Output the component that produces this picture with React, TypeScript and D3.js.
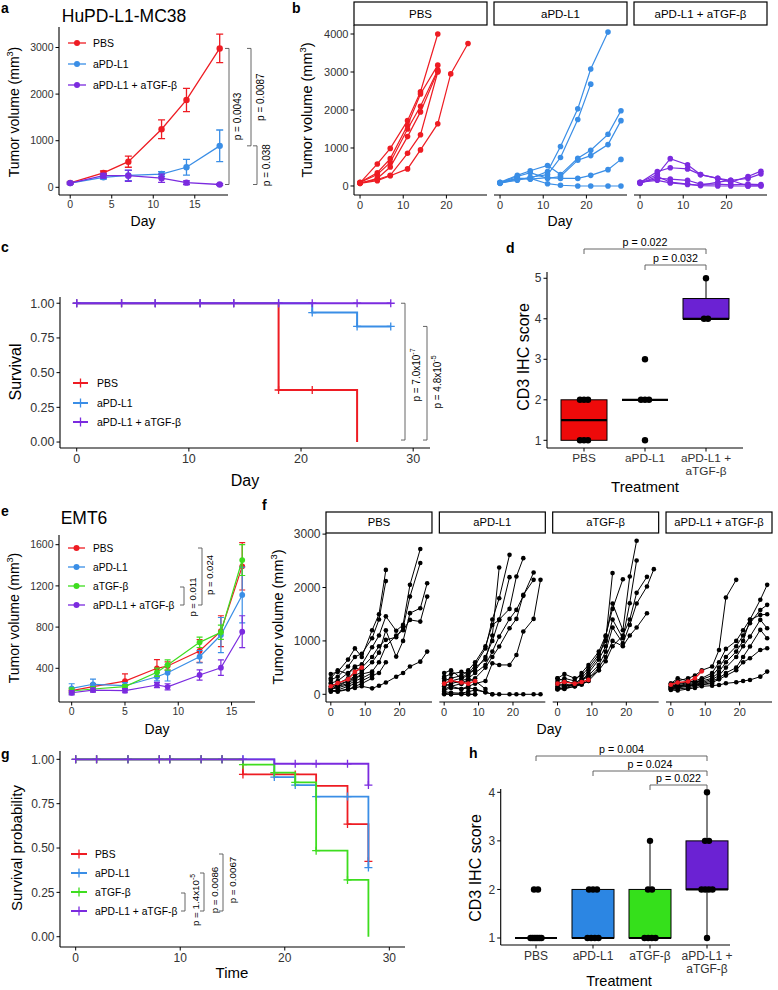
import React from 'react';
import * as d3 from 'd3';

const FONT = '"Liberation Sans", Arial, Helvetica, sans-serif';
const C_RED = '#EE1C23';
const C_BLUE = '#3A8EE6';
const C_PURPLE = '#7B2BDF';
const C_GREEN = '#3EDD1F';
const F_RED = '#EE0A0A';
const F_BLUE = '#2C86E3';
const F_GREEN = '#35E01B';
const F_PURPLE = '#6B22D3';
const AXIS_TXT = '#333333';
const BRK = '#555555';

// ---------------- Panel a data ----------------
const aDays = [0, 4, 7, 11, 14, 18];
const aXTicks = [0, 5, 10, 15];
const aYTicks = [0, 1000, 2000, 3000];
const aPBS = [95, 310, 550, 1245, 1875, 2980];
const aPBSErr = [20, 40, 120, 200, 250, 305];
const aPDL1 = [90, 215, 255, 285, 430, 890];
const aPDL1Err = [15, 40, 110, 50, 170, 340];
const aCombo = [90, 250, 250, 195, 100, 60];
const aComboErr = [15, 50, 120, 90, 40, 20];
const aLegend = ['PBS', 'aPD-L1', 'aPD-L1 + aTGF-β'];
const aPvals = ['p = 0.0043', 'p = 0.0087', 'p = 0.038'];

// ---------------- Panel b data ----------------
const bFacets = ['PBS', 'aPD-L1', 'aPD-L1 + aTGF-β'];
const bDays = [0, 4, 7, 11, 14, 18, 21, 25, 28];
const bXTicks = [0, 10, 20];
const bYTicks = [0, 1000, 2000, 3000, 4000];
const bPBS = [
  [80, 580, 990, 1720, 2480, 4000],
  [100, 350, 720, 1600, 2420, 3180],
  [90, 300, 620, 1500, 2100, 3050],
  [70, 200, 500, 1300, 1950, 3020],
  [80, 170, 280, 860, 1350, 3000],
  [70, 140, 270, 450, 950, 1640, 2950, 3750],
];
const bAPD = [
  [90, 200, 200, 380, 1040, 2030, 3080, 4050],
  [80, 150, 230, 300, 750, 1750, 2680],
  [100, 280, 400, 540, 300, 730, 940, 1360, 1980],
  [90, 250, 350, 200, 250, 680, 800, 1090, 1720],
  [80, 200, 180, 220, 200, 200, 280, 430, 700],
  [70, 180, 200, 60, 20, 0, 0, 0, 0],
];
const bCombo = [
  [100, 300, 720, 560, 300, 200, 100, 250, 390],
  [90, 380, 480, 450, 300, 200, 150, 200, 320],
  [80, 200, 180, 150, 50, 50, 30, 50, 40],
  [100, 150, 80, 40, 10, 0, 0, 0, 10],
  [70, 250, 100, 50, 20, 100, 150, 0, 0],
];

// ---------------- Panel c data ----------------
const cXTicks = [0, 10, 20, 30];
const cYTicks = [0, 0.25, 0.5, 0.75, 1];
const cPBSTimes = [0, 18, 25];
const cPBSSurv = [1, 0.375, 0];
const cPBSEnd = 25;
const cPBSCens = [0, 4, 7, 11, 14, 18, 21];
const cAPDTimes = [0, 21, 25];
const cAPDSurv = [1, 0.933, 0.833];
const cAPDEnd = 28;
const cAPDCens = [0, 4, 7, 11, 14, 18, 21, 25, 28];
const cComboTimes = [0];
const cComboSurv = [1];
const cComboEnd = 28;
const cComboCens = [0, 4, 7, 11, 14, 18, 21, 25, 28];

// ---------------- Panel d data ----------------
const dCats = ['PBS', 'aPD-L1', 'aPD-L1 +\naTGF-β'];
const dYTicks = [1, 2, 3, 4, 5];
const dPBS = [1, 1, 1, 2, 2, 2];
const dAPD = [1, 2, 2, 2, 3];
const dCombo = [4, 4, 5];

// ---------------- Panel e data ----------------
const eDays = [0, 2, 5, 8, 9, 12, 14, 16];
const eXTicks = [0, 5, 10, 15];
const eYTicks = [400, 800, 1200, 1600];
const ePBS = [183, 222, 276, 400, 422, 568, 760, 1390];
const ePBSErr = [15, 30, 70, 85, 40, 110, 150, 230];
const eAPD = [205, 245, 231, 318, 357, 513, 723, 1112];
const eAPDErr = [45, 50, 30, 40, 80, 60, 170, 270];
const eATGF = [180, 199, 222, 361, 432, 652, 750, 1451];
const eATGFErr = [30, 20, 20, 40, 50, 50, 70, 150];
const eCombo = [163, 189, 183, 238, 220, 335, 406, 755];
const eComboErr = [20, 20, 20, 25, 30, 50, 75, 155];
const eLegend = ['PBS', 'aPD-L1', 'aTGF-β', 'aPD-L1 + aTGF-β'];

// ---------------- Panel f data ----------------
const fFacets = ['PBS', 'aPD-L1', 'aTGF-β', 'aPD-L1 + aTGF-β'];
const fDays = [0, 2, 5, 7, 9, 12, 14, 16, 19, 21, 23, 26, 28];
const fXTicks = [0, 10, 20];
const fYTicks = [0, 1000, 2000, 3000];
const fMeanDays = [0, 2, 5, 7, 9];
const fPBS = [
  [380, 420, 650, 860, 700, 1200, 1500, 2330],
  [270, 330, 520, 700, 760, 1050, 1400, 2120],
  [210, 250, 400, 520, 560, 880, 1100, 1460, 1190, 1300, 2050, 2720],
  [150, 200, 300, 420, 500, 700, 900, 1020, 1070, 1250, 1830, 2460],
  [120, 180, 250, 350, 420, 600, 780, 1200, 706, 1000, 1520, 1612, 2080],
  [100, 150, 200, 300, 380, 425, 600, 900, 1100, 1200, 1394, 1362, 1830],
  [80, 60, 100, 120, 150, 112, 160, 220, 330, 400, 520, 612, 800],
  [300, 450, 380, 500, 450],
  [200, 150, 250, 300, 350],
  [100, 120, 180, 250, 300, 400],
  [60, 50, 90, 150, 200, 300],
  [50, 80, 150, 200, 250, 350, 400, 600],
];
const fPBSMean = [150, 210, 280, 420, 500];
const fAPD = [
  [400, 450, 300, 350, 500, 650, 1100, 2375],
  [330, 380, 420, 380, 550, 860, 1400, 1800, 2612],
  [250, 300, 350, 450, 600, 900, 1300, 1394, 2194],
  [200, 250, 300, 400, 450, 700, 1000, 1400, 1600, 2206, 2550],
  [150, 200, 250, 300, 400, 550, 800, 1081, 1412, 1581, 1844, 2281],
  [100, 150, 200, 250, 300, 500, 700, 894, 1237, 1412, 1862, 2144],
  [80, 120, 100, 150, 200, 250, 581, 550, 550, 737, 1175, 1412, 2144],
  [50, 30, 20, 50, 80, 40, 0, 0, 0, 0, 0, 0, 0],
  [20, 0, 10, 0, 0],
  [300, 250, 200, 280, 250, 100],
  [0, 0, 0, 0, 0],
  [200, 150, 100, 120, 100, 40, 0],
];
const fAPDMean = [200, 260, 220, 200, 250];
const fATGF = [
  [300, 380, 300, 350, 500, 750, 1000, 2270],
  [250, 300, 250, 400, 550, 800, 1100, 1600, 2156],
  [200, 250, 200, 300, 450, 700, 1080, 1700, 1200, 2206, 2875],
  [150, 200, 150, 250, 400, 650, 900, 1400, 1050, 1706, 2506],
  [120, 150, 200, 250, 350, 550, 800, 1250, 956, 1300, 1700, 2019, 2344],
  [100, 120, 180, 200, 300, 500, 700, 1000, 900, 1100, 1250, 1519],
  [90, 110, 150, 180, 250, 450, 620, 900, 1100, 1400, 1900, 2200],
  [300, 250, 200, 250, 350],
  [200, 150, 180, 200, 250],
  [100, 100, 150, 200, 300, 450],
];
const fATGFMean = [200, 230, 200, 230, 270];
const fCombo = [
  [200, 250, 300, 350, 450, 520, 830, 1812, 2144],
  [150, 180, 220, 250, 300, 400, 600, 850, 1000, 1200, 1400, 1770, 2050],
  [130, 160, 200, 220, 280, 350, 500, 700, 900, 1100, 1330, 1580, 1675],
  [120, 150, 180, 200, 250, 300, 420, 600, 800, 1000, 1394, 1487, 1500],
  [110, 140, 160, 180, 220, 280, 350, 500, 700, 900, 1081, 1394, 1237],
  [100, 120, 150, 170, 200, 250, 300, 400, 500, 700, 894, 1206, 1050],
  [90, 100, 120, 150, 180, 220, 280, 350, 450, 600, 675, 831, 862],
  [80, 70, 100, 120, 150, 162, 175, 206, 225, 250, 269, 331, 425],
  [200, 300, 250, 220, 260],
  [180, 200, 230, 250, 220],
  [150, 170, 150, 200, 180, 200],
];
const fComboMean = [180, 220, 240, 300, 430];

// ---------------- Panel g data ----------------
const gXTicks = [0, 10, 20, 30];
const gYTicks = [0, 0.25, 0.5, 0.75, 1];
const gPBSTimes = [0, 16, 23, 26, 28];
const gPBSSurv = [1, 0.915, 0.85, 0.635, 0.425];
const gPBSCens = [0, 2, 5, 8, 9, 12, 14, 16, 19, 21, 26, 28];
const gAPDTimes = [0, 19, 21, 23, 28];
const gAPDSurv = [1, 0.9, 0.855, 0.79, 0.39];
const gAPDCens = [0, 2, 5, 8, 9, 12, 14, 16, 19, 21, 23, 26, 28];
const gATGFTimes = [0, 16, 19, 21, 23, 26, 28];
const gATGFSurv = [1, 0.97, 0.925, 0.87, 0.485, 0.32, 0];
const gATGFCens = [0, 2, 5, 8, 9, 12, 14, 16, 19, 21, 23, 26];
const gComboTimes = [0, 19, 28];
const gComboSurv = [1, 0.975, 0.855];
const gComboCens = [0, 2, 5, 8, 9, 12, 14, 16, 21, 23, 26, 28];
const gEnd = 28;

// ---------------- Panel h data ----------------
const hCats = ['PBS', 'aPD-L1', 'aTGF-β', 'aPD-L1 +\naTGF-β'];
const hYTicks = [1, 2, 3, 4];
const hPBS = [1, 1, 1, 1, 1, 1, 1, 2, 2];
const hAPD = [1, 1, 1, 1, 2, 2, 2];
const hATGF = [1, 1, 1, 1, 2, 2, 3];
const hCombo = [1, 2, 2, 2, 2, 3, 3, 4];

// ================= helpers =================
type Scale = d3.ScaleLinear<number, number>;

function LeftAxis({ x, y, ticks, fmt, fs }: { x: number; y: Scale; ticks: number[]; fmt: (v: number) => string; fs: number }) {
  const [r0, r1] = y.range();
  return (
    <g>
      <line x1={x} x2={x} y1={r0} y2={r1} stroke="#000" strokeWidth={1.1} />
      {ticks.map((t) => (
        <g key={t}>
          <line x1={x - 3.5} x2={x} y1={y(t)} y2={y(t)} stroke="#000" strokeWidth={1} />
          <text x={x - 5.5} y={y(t)} dy="0.35em" textAnchor="end" fontSize={fs} fill={AXIS_TXT}>
            {fmt(t)}
          </text>
        </g>
      ))}
    </g>
  );
}

function BottomAxis({ y0, x, ticks, fs, x0, x1 }: { y0: number; x: Scale; ticks: number[]; fs: number; x0: number; x1: number }) {
  return (
    <g>
      <line x1={x0} x2={x1} y1={y0} y2={y0} stroke="#000" strokeWidth={1.1} />
      {ticks.map((t) => (
        <g key={t}>
          <line x1={x(t)} x2={x(t)} y1={y0} y2={y0 + 3.5} stroke="#000" strokeWidth={1} />
          <text x={x(t)} y={y0 + 5} dy="0.8em" textAnchor="middle" fontSize={fs} fill={AXIS_TXT}>
            {t}
          </text>
        </g>
      ))}
    </g>
  );
}

function VTitle({ x, y, fs, children }: { x: number; y: number; fs: number; children: any }) {
  return (
    <text transform={`translate(${x},${y}) rotate(-90)`} textAnchor="middle" dy="0.35em" fontSize={fs} fill="#000">
      {children}
    </text>
  );
}

const mm3 = (fs: number) => [
  <tspan key="a">Tumor volume (mm</tspan>,
  <tspan key="b" dy={-fs * 0.4} fontSize={fs * 0.65}>3</tspan>,
  <tspan key="c" dy={fs * 0.4}>)</tspan>,
];

function PanelLabel({ x, y, t }: { x: number; y: number; t: string }) {
  return (
    <text x={x} y={y} fontSize={14} fontWeight="bold" fill="#000">
      {t}
    </text>
  );
}

function VBracket({ x, y1, y2, tx, ty, fs, children }: any) {
  return (
    <g>
      <path d={`M${x - 4},${y1} H${x} V${y2} H${x - 4}`} fill="none" stroke={BRK} strokeWidth={0.9} />
      <text transform={`translate(${tx},${ty}) rotate(-90)`} textAnchor="middle" dy="0.35em" fontSize={fs} fill="#000">
        {children}
      </text>
    </g>
  );
}

function HBracket({ x1, x2, y, fs, text }: any) {
  return (
    <g>
      <path d={`M${x1},${y + 5} V${y} H${x2} V${y + 5}`} fill="none" stroke={BRK} strokeWidth={0.9} />
      <text x={(x1 + x2) / 2} y={y - 3} textAnchor="middle" fontSize={fs} fill="#000">
        {text}
      </text>
    </g>
  );
}

const pSup = (base: string, exp: string, fs: number) => [
  <tspan key="a">{base}</tspan>,
  <tspan key="b" dy={-fs * 0.45} fontSize={fs * 0.7}>{exp}</tspan>,
];

function MeanSeries({ x, y, days, mean, err, color, cap, r, lw }: any) {
  const line = d3
    .line<number>()
    .x((_, i) => x(days[i]))
    .y((d) => y(d));
  return (
    <g>
      <path d={line(mean) || ''} fill="none" stroke={color} strokeWidth={lw} />
      {mean.map((m: number, i: number) => {
        const cx = x(days[i]);
        const lo = y(m - err[i]);
        const hi = y(m + err[i]);
        return (
          <g key={i}>
            <path d={`M${cx - cap},${hi} H${cx + cap} M${cx},${hi} V${lo} M${cx - cap},${lo} H${cx + cap}`} stroke={color} strokeWidth={lw} fill="none" />
            <circle cx={cx} cy={y(m)} r={r} fill={color} />
          </g>
        );
      })}
    </g>
  );
}

function DotLegend({ items, colors, x0, x1, tx, ys, fs, marker }: any) {
  return (
    <g>
      {items.map((t: string, i: number) => {
        const yy = ys[i];
        const cx = (x0 + x1) / 2;
        return (
          <g key={t}>
            <line x1={x0} x2={x1} y1={yy} y2={yy} stroke={colors[i]} strokeWidth={marker === 'plus' ? 2 : 1.3} />
            {marker === 'plus' ? (
              <path d={`M${cx},${yy - 4.5} V${yy + 4.5}`} stroke={colors[i]} strokeWidth={1.3} />
            ) : (
              <circle cx={cx} cy={yy} r={3} fill={colors[i]} />
            )}
            <text x={tx} y={yy} dy="0.35em" fontSize={fs} fill="#000">
              {t}
            </text>
          </g>
        );
      })}
    </g>
  );
}

function KM({ x, y, times, surv, end, cens, color, lw, ps }: any) {
  const pts: [number, number][] = times.map((t: number, i: number) => [t, surv[i]]);
  pts.push([end, surv[surv.length - 1]]);
  const path = d3
    .line<[number, number]>()
    .x((d) => x(d[0]))
    .y((d) => y(d[1]))
    .curve(d3.curveStepAfter)(pts);
  const survAt = (t: number) => {
    let s = surv[0];
    times.forEach((tt: number, i: number) => {
      if (tt <= t) s = surv[i];
    });
    return s;
  };
  return (
    <g>
      <path d={path || ''} fill="none" stroke={color} strokeWidth={lw} />
      {cens.map((t: number, i: number) => {
        const cx = x(t);
        const cy = y(survAt(t));
        return <path key={i} d={`M${cx - ps},${cy} H${cx + ps} M${cx},${cy - ps} V${cy + ps}`} stroke={color} strokeWidth={1.3} />;
      })}
    </g>
  );
}

function spreadPoints(vals: number[], maxStep: number, maxSpan: number) {
  const counts: Record<string, number> = {};
  vals.forEach((v) => (counts[v] = (counts[v] || 0) + 1));
  const seen: Record<string, number> = {};
  return vals.map((v) => {
    const n = counts[v];
    const k = seen[v] || 0;
    seen[v] = k + 1;
    const step = n > 1 ? Math.min(maxStep, maxSpan / (n - 1)) : 0;
    return (k - (n - 1) / 2) * step;
  });
}

function BoxGroup({ cx, y, vals, fill, w, r }: any) {
  const s = [...vals].sort((a: number, b: number) => a - b);
  const q1 = d3.quantile(s, 0.25) as number;
  const med = d3.quantile(s, 0.5) as number;
  const q3 = d3.quantile(s, 0.75) as number;
  const iqr = q3 - q1;
  const lo = d3.min(s.filter((v: number) => v >= q1 - 1.5 * iqr)) as number;
  const hi = d3.max(s.filter((v: number) => v <= q3 + 1.5 * iqr)) as number;
  const offs = spreadPoints(vals, 4, 11);
  return (
    <g>
      <line x1={cx} x2={cx} y1={y(q3)} y2={y(hi)} stroke="#000" strokeWidth={1} />
      <line x1={cx} x2={cx} y1={y(q1)} y2={y(lo)} stroke="#000" strokeWidth={1} />
      <rect x={cx - w / 2} y={y(q3)} width={w} height={Math.max(0, y(q1) - y(q3))} fill={fill} stroke="#000" strokeWidth={1} />
      <line x1={cx - w / 2} x2={cx + w / 2} y1={y(med)} y2={y(med)} stroke="#000" strokeWidth={2.2} />
      {vals.map((v: number, i: number) => (
        <circle key={i} cx={cx + offs[i]} cy={y(v)} r={r} fill="#000" />
      ))}
    </g>
  );
}

function CatLabel({ x, y, text, fs }: any) {
  const lines = text.split('\n');
  return (
    <text x={x} y={y} textAnchor="middle" fontSize={fs} fill={AXIS_TXT}>
      {lines.map((l: string, i: number) => (
        <tspan key={i} x={x} dy={i === 0 ? '0.8em' : '1.1em'}>
          {l}
        </tspan>
      ))}
    </text>
  );
}

function FacetLines({ x, y, days, mice, color, r, lw }: any) {
  const line = d3
    .line<[number, number]>()
    .x((d) => x(d[0]))
    .y((d) => y(d[1]));
  return (
    <g>
      {mice.map((m: (number | null)[], k: number) => {
        const pts: [number, number][] = [];
        m.forEach((v, i) => {
          if (v !== null && v !== undefined) pts.push([days[i], v]);
        });
        return (
          <g key={k}>
            <path d={line(pts) || ''} fill="none" stroke={color} strokeWidth={lw} />
            {pts.map((p, i) => (
              <circle key={i} cx={x(p[0])} cy={y(p[1])} r={r} fill={color} />
            ))}
          </g>
        );
      })}
    </g>
  );
}

// ================= panels =================
function PanelA() {
  const x = d3.scaleLinear().domain([-1.35, 19.0]).range([59, 228]);
  const y = d3.scaleLinear().domain([-165, 3440]).range([195, 27]);
  return (
    <g>
      <PanelLabel x={1} y={13} t="a" />
      <text x={124} y={22} textAnchor="middle" fontSize={17.5} fill="#000">HuPD-L1-MC38</text>
      <LeftAxis x={59} y={y} ticks={aYTicks} fmt={(v) => String(v)} fs={10.5} />
      <BottomAxis y0={195} x={x} ticks={aXTicks} fs={10.5} x0={59} x1={228} />
      <VTitle x={14} y={112} fs={14}>{mm3(14)}</VTitle>
      <text x={143} y={226} textAnchor="middle" fontSize={14}>Day</text>
      <MeanSeries x={x} y={y} days={aDays} mean={aPBS} err={aPBSErr} color={C_RED} cap={3.5} r={3.2} lw={1.3} />
      <MeanSeries x={x} y={y} days={aDays} mean={aPDL1} err={aPDL1Err} color={C_BLUE} cap={3.5} r={3.2} lw={1.3} />
      <MeanSeries x={x} y={y} days={aDays} mean={aCombo} err={aComboErr} color={C_PURPLE} cap={3.5} r={3.2} lw={1.3} />
      <DotLegend items={aLegend} colors={[C_RED, C_BLUE, C_PURPLE]} x0={68} x1={86} tx={93} ys={[43, 64, 85]} fs={10.5} />
      <VBracket x={229} y1={y(aPBS[5])} y2={y(aCombo[5])} tx={237} ty={(y(aPBS[5]) + y(aCombo[5])) / 2} fs={10}>{aPvals[0]}</VBracket>
      <VBracket x={251} y1={y(aPBS[5])} y2={y(aPDL1[5])} tx={260} ty={(y(aPBS[5]) + y(aPDL1[5])) / 2} fs={10}>{aPvals[1]}</VBracket>
      <VBracket x={257} y1={y(aPDL1[5])} y2={y(aCombo[5])} tx={266} ty={(y(aPDL1[5]) + y(aCombo[5])) / 2} fs={10}>{aPvals[2]}</VBracket>
    </g>
  );
}

function PanelB() {
  const band = d3.scaleBand<string>().domain(bFacets).range([354, 767]).paddingInner(0.05);
  const y = d3.scaleLinear().domain([-237, 4237]).range([195, 25]);
  const groups = [bPBS, bAPD, bCombo];
  const colors = [C_RED, C_BLUE, C_PURPLE];
  return (
    <g>
      <PanelLabel x={292} y={13} t="b" />
      <LeftAxis x={354} y={y} ticks={bYTicks} fmt={(v) => String(v)} fs={11} />
      <VTitle x={307} y={110} fs={14.5}>{mm3(14.5)}</VTitle>
      {bFacets.map((f, i) => {
        const x0 = band(f) as number;
        const w = band.bandwidth();
        const x = d3.scaleLinear().domain([-1.4, 29.4]).range([x0, x0 + w]);
        return (
          <g key={f}>
            <rect x={x0} y={2} width={w} height={23} fill="#fff" stroke="#000" strokeWidth={1.2} />
            <text x={x0 + w / 2} y={13.5} dy="0.35em" textAnchor="middle" fontSize={11.5}>{f}</text>
            <BottomAxis y0={195} x={x} ticks={bXTicks} fs={11} x0={x0} x1={x0 + w} />
            <FacetLines x={x} y={y} days={bDays} mice={groups[i]} color={colors[i]} r={2.8} lw={1.2} />
          </g>
        );
      })}
      <text x={560} y={226} textAnchor="middle" fontSize={14}>Day</text>
    </g>
  );
}

function PanelC() {
  const x = d3.scaleLinear().domain([-1.49, 31.5]).range([60, 430]);
  const y = d3.scaleLinear().domain([-0.043, 1.045]).range([448, 297]);
  return (
    <g>
      <PanelLabel x={1} y={252} t="c" />
      <LeftAxis x={60} y={y} ticks={cYTicks} fmt={(v) => d3.format('.2f')(v)} fs={12.5} />
      <BottomAxis y0={448} x={x} ticks={cXTicks} fs={12.5} x0={60} x1={430} />
      <VTitle x={15} y={372} fs={16}>Survival</VTitle>
      <text x={245} y={486} textAnchor="middle" fontSize={16}>Day</text>
      <KM x={x} y={y} times={cPBSTimes} surv={cPBSSurv} end={cPBSEnd} cens={cPBSCens} color={C_RED} lw={2} ps={4} />
      <KM x={x} y={y} times={cAPDTimes} surv={cAPDSurv} end={cAPDEnd} cens={cAPDCens} color={C_BLUE} lw={2} ps={4} />
      <KM x={x} y={y} times={cComboTimes} surv={cComboSurv} end={cComboEnd} cens={cComboCens} color={C_PURPLE} lw={2} ps={4} />
      <DotLegend items={aLegend} colors={[C_RED, C_BLUE, C_PURPLE]} x0={73} x1={88} tx={97} ys={[383, 403, 422]} fs={10.5} marker="plus" />
      <VBracket x={405} y1={y(1)} y2={y(0) - 2} tx={416} ty={375} fs={10}>{pSup('p = 7.0x10', '-7', 10)}</VBracket>
      <VBracket x={427} y1={y(cAPDSurv[2])} y2={y(0) - 2} tx={437} ty={382} fs={10}>{pSup('p = 4.8x10', '-5', 10)}</VBracket>
    </g>
  );
}

function PanelD() {
  const x = d3.scalePoint<string>().domain(dCats).range([584, 706]);
  const y = d3.scaleLinear().domain([0.81, 5.155]).range([448, 272]);
  const groups = [dPBS, dAPD, dCombo];
  const fills = [F_RED, F_BLUE, F_PURPLE];
  return (
    <g>
      <PanelLabel x={506} y={253} t="d" />
      <LeftAxis x={547} y={y} ticks={dYTicks} fmt={(v) => String(v)} fs={12} />
      <line x1={547} x2={743} y1={448} y2={448} stroke="#000" strokeWidth={1.1} />
      {dCats.map((c, i) => (
        <g key={c}>
          <line x1={x(c)} x2={x(c)} y1={448} y2={451.5} stroke="#000" />
          <CatLabel x={x(c)} y={453} text={c} fs={11.8} />
          <BoxGroup cx={x(c)} y={y} vals={groups[i]} fill={fills[i]} w={46} r={3.2} />
        </g>
      ))}
      <VTitle x={523} y={357} fs={16}>CD3 IHC score</VTitle>
      <text x={645} y={492} textAnchor="middle" fontSize={15}>Treatment</text>
      <HBracket x1={x(dCats[0])} x2={x(dCats[2])} y={249} fs={10.7} text="p = 0.022" />
      <HBracket x1={x(dCats[1])} x2={x(dCats[2])} y={265} fs={10.7} text="p = 0.032" />
    </g>
  );
}

function PanelE() {
  const x = d3.scaleLinear().domain([-1.19, 17.2]).range([59, 255]);
  const y = d3.scaleLinear().domain([73, 1694]).range([702, 535]);
  return (
    <g>
      <PanelLabel x={1} y={516} t="e" />
      <text x={84} y={524} textAnchor="middle" fontSize={17.5}>EMT6</text>
      <LeftAxis x={59} y={y} ticks={eYTicks} fmt={(v) => String(v)} fs={10.5} />
      <BottomAxis y0={702} x={x} ticks={eXTicks} fs={10.5} x0={59} x1={255} />
      <VTitle x={14} y={618} fs={14}>{mm3(14)}</VTitle>
      <text x={157} y={734} textAnchor="middle" fontSize={14}>Day</text>
      <MeanSeries x={x} y={y} days={eDays} mean={ePBS} err={ePBSErr} color={C_RED} cap={3} r={2.9} lw={1.2} />
      <MeanSeries x={x} y={y} days={eDays} mean={eAPD} err={eAPDErr} color={C_BLUE} cap={3} r={2.9} lw={1.2} />
      <MeanSeries x={x} y={y} days={eDays} mean={eATGF} err={eATGFErr} color={C_GREEN} cap={3} r={2.9} lw={1.2} />
      <MeanSeries x={x} y={y} days={eDays} mean={eCombo} err={eComboErr} color={C_PURPLE} cap={3} r={2.9} lw={1.2} />
      <DotLegend items={eLegend} colors={[C_RED, C_BLUE, C_GREEN, C_PURPLE]} x0={68} x1={85} tx={93} ys={[548, 567, 586, 605]} fs={10.2} />
      <VBracket x={184} y1={587} y2={605} tx={193} ty={597} fs={9.5}>p = 0.011</VBracket>
      <VBracket x={202} y1={548} y2={605} tx={210} ty={575} fs={9.5}>p = 0.024</VBracket>
    </g>
  );
}

function PanelF() {
  const band = d3.scaleBand<string>().domain(fFacets).range([326, 772]).paddingInner(0.065);
  const y = d3.scaleLinear().domain([-144, 3021]).range([702, 533]);
  const groups = [fPBS, fAPD, fATGF, fCombo];
  const means = [fPBSMean, fAPDMean, fATGFMean, fComboMean];
  return (
    <g>
      <PanelLabel x={262} y={510} t="f" />
      <LeftAxis x={326} y={y} ticks={fYTicks} fmt={(v) => String(v)} fs={12} />
      <VTitle x={278} y={617} fs={14.5}>{mm3(14.5)}</VTitle>
      {fFacets.map((f, i) => {
        const x0 = band(f) as number;
        const w = band.bandwidth();
        const x = d3.scaleLinear().domain([-1.4, 29.4]).range([x0, x0 + w]);
        return (
          <g key={f}>
            <rect x={x0} y={512} width={w} height={21} fill="#fff" stroke="#000" strokeWidth={1.2} />
            <text x={x0 + w / 2} y={522.5} dy="0.35em" textAnchor="middle" fontSize={11.2}>{f}</text>
            <BottomAxis y0={702} x={x} ticks={fXTicks} fs={11} x0={x0} x1={x0 + w} />
            <FacetLines x={x} y={y} days={fDays} mice={groups[i]} color="#000" r={2.3} lw={1} />
            <FacetLines x={x} y={y} days={fMeanDays} mice={[means[i]]} color={C_RED} r={2.3} lw={1.4} />
          </g>
        );
      })}
      <text x={549} y={734} textAnchor="middle" fontSize={14}>Day</text>
    </g>
  );
}

function PanelG() {
  const x = d3.scaleLinear().domain([-1.5, 31.5]).range([60, 405]);
  const y = d3.scaleLinear().domain([-0.058, 1.047]).range([947, 751]);
  return (
    <g>
      <PanelLabel x={1} y={759} t="g" />
      <LeftAxis x={60} y={y} ticks={gYTicks} fmt={(v) => d3.format('.2f')(v)} fs={12} />
      <BottomAxis y0={947} x={x} ticks={gXTicks} fs={12} x0={60} x1={405} />
      <VTitle x={17} y={848} fs={15}>Survival probability</VTitle>
      <text x={232} y={978} textAnchor="middle" fontSize={15}>Time</text>
      <KM x={x} y={y} times={gPBSTimes} surv={gPBSSurv} end={gEnd} cens={gPBSCens} color={C_RED} lw={1.8} ps={4} />
      <KM x={x} y={y} times={gAPDTimes} surv={gAPDSurv} end={gEnd} cens={gAPDCens} color={C_BLUE} lw={1.8} ps={4} />
      <KM x={x} y={y} times={gATGFTimes} surv={gATGFSurv} end={gEnd} cens={gATGFCens} color={C_GREEN} lw={1.8} ps={4} />
      <KM x={x} y={y} times={gComboTimes} surv={gComboSurv} end={gEnd} cens={gComboCens} color={C_PURPLE} lw={1.8} ps={4} />
      <DotLegend items={eLegend} colors={[C_RED, C_BLUE, C_GREEN, C_PURPLE]} x0={71} x1={87} tx={95} ys={[854, 873, 892, 911]} fs={10.3} marker="plus" />
      <VBracket x={185} y1={893} y2={911} tx={196} ty={900} fs={9.8}>{pSup('p = 1.4x10', '-5', 9.8)}</VBracket>
      <VBracket x={204} y1={873} y2={911} tx={215} ty={890} fs={9.8}>p = 0.0086</VBracket>
      <VBracket x={223} y1={854} y2={911} tx={233} ty={880} fs={9.8}>p = 0.0067</VBracket>
    </g>
  );
}

function PanelH() {
  const x = d3.scalePoint<string>().domain(hCats).range([536, 707]);
  const y = d3.scaleLinear().domain([0.856, 4.068]).range([945, 789]);
  const groups = [hPBS, hAPD, hATGF, hCombo];
  const fills = [F_RED, F_BLUE, F_GREEN, F_PURPLE];
  return (
    <g>
      <PanelLabel x={469} y={758} t="h" />
      <LeftAxis x={500.7} y={y} ticks={hYTicks} fmt={(v) => String(v)} fs={12} />
      <line x1={500.7} x2={730} y1={945} y2={945} stroke="#000" strokeWidth={1.1} />
      {hCats.map((c, i) => (
        <g key={c}>
          <line x1={x(c)} x2={x(c)} y1={945} y2={948.5} stroke="#000" />
          <CatLabel x={x(c)} y={950} text={c} fs={12} />
          <BoxGroup cx={x(c)} y={y} vals={groups[i]} fill={fills[i]} w={42} r={3.2} />
        </g>
      ))}
      <VTitle x={475} y={868} fs={16}>CD3 IHC score</VTitle>
      <text x={619} y={986} textAnchor="middle" fontSize={14.5}>Treatment</text>
      <HBracket x1={x(hCats[0])} x2={x(hCats[3])} y={756} fs={10.7} text="p = 0.004" />
      <HBracket x1={x(hCats[1])} x2={x(hCats[3])} y={771} fs={10.7} text="p = 0.024" />
      <HBracket x1={x(hCats[2])} x2={x(hCats[3])} y={785} fs={10.7} text="p = 0.022" />
    </g>
  );
}

export default function App() {
  return (
    <svg
      width={778}
      height={990}
      viewBox="0 0 778 990"
      style={{ position: 'absolute', left: 0, top: 0, display: 'block', background: '#fff' }}
      fontFamily={FONT}
    >
      <rect width={778} height={990} fill="#fff" />
      <PanelA />
      <PanelB />
      <PanelC />
      <PanelD />
      <PanelE />
      <PanelF />
      <PanelG />
      <PanelH />
    </svg>
  );
}
